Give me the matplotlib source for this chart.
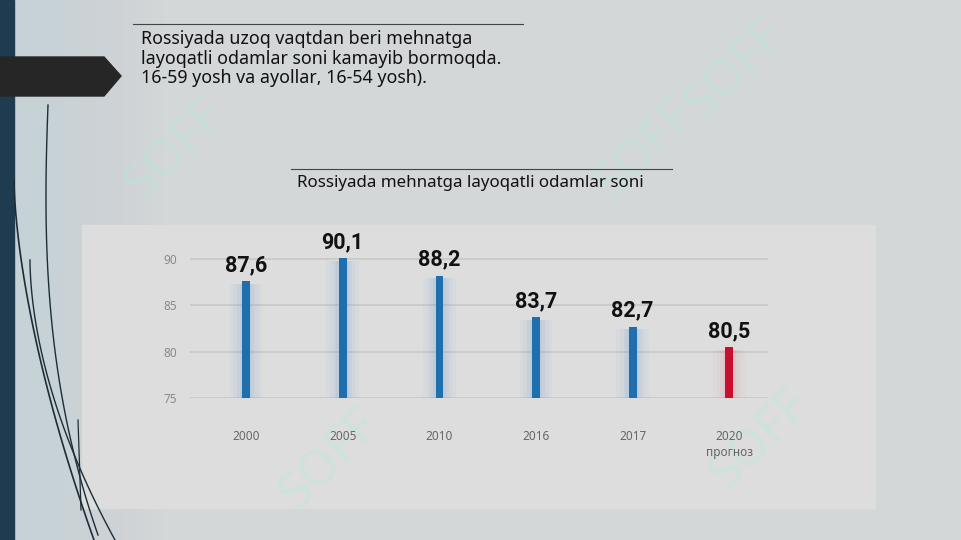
import matplotlib.pyplot as plt
import matplotlib.patches as mpatches
import numpy as np

# data
years = ['2000', '2005', '2010', '2016', '2017', '2020\nпрогноз']
values = [87.6, 90.1, 88.2, 83.7, 82.7, 80.5]
labels = ['87,6', '90,1', '88,2', '83,7', '82,7', '80,5']
bar_colors = ['#1f6fae', '#1f6fae', '#1f6fae', '#1f6fae', '#1f6fae', '#c8102e']
glow_colors = ['#3b7fd6', '#3b7fd6', '#3b7fd6', '#3b7fd6', '#3b7fd6', '#e0607a']
yticks = [75, 80, 85, 90]

plt.rcParams['font.family'] = ['Noto Sans', 'DejaVu Sans']

W, H = 961, 540
fig = plt.figure(figsize=(W / 100, H / 100), dpi=100)
fig.patch.set_facecolor('#d4d7d8')

# slide background layer in pixel coords
bg = fig.add_axes([0, 0, 1, 1])
bg.set_xlim(0, W)
bg.set_ylim(H, 0)
bg.axis('off')
for k in range(12):
    bg.add_patch(mpatches.Rectangle((14, 0), 40 + 10 * k, H, color='#c4d2d6', alpha=0.07, lw=0, zorder=0))
bg.add_patch(mpatches.Rectangle((0, 0), 14, H, color='#1f3b50', zorder=1))
bg.add_patch(mpatches.Polygon([(0, 57), (104, 57), (121, 76), (104, 96), (0, 96)],
                              closed=True, color='#262626', zorder=2))
# panel behind the chart
bg.add_patch(mpatches.Rectangle((82, 225), 793, 283, color='#dddddd', zorder=1))

# watermark
for (x, y) in [(175, 150), (645, 150), (735, 70), (330, 460), (760, 440)]:
    bg.text(x, y, 'SOFF', fontsize=36, fontweight='bold', color='#a8efd6', alpha=0.3,
            rotation=45, ha='center', va='center', zorder=1)

# decorative curves on the left
t = np.linspace(0, 1, 100)
bg.plot(14 + 80 * t ** 1.6, 180 + 360 * t, color='#1d2d38', lw=1.2, zorder=3)
bg.plot(48 - 10 * np.sin(np.pi * t * 0.5) + 60 * t ** 2.5, 105 + 430 * t, color='#1d2d38', lw=1.0, zorder=3)
bg.plot(30 + 85 * t ** 1.8, 260 + 280 * t, color='#1d2d38', lw=1.0, zorder=3)
bg.plot([78, 81], [420, 510], color='#1d2d38', lw=0.9, zorder=3)

# heading text
bg.plot([133, 523], [24, 24], color='#444444', lw=0.8)
bg.text(141, 30, 'Rossiyada uzoq vaqtdan beri mehnatga\nlayoqatli odamlar soni kamayib bormoqda.\n16-59 yosh va ayollar, 16-54 yosh).',
        fontsize=12.8, color='#111111', va='top', ha='left', linespacing=1.12)
bg.plot([291, 672], [169, 169], color='#444444', lw=0.8)
bg.text(297, 183, 'Rossiyada mehnatga layoqatli odamlar soni',
        fontsize=12.2, color='#111111', va='center', ha='left')

# chart
ax = fig.add_axes([190 / W, (H - 398) / H, 578 / W, 148.3 / H])
ax.patch.set_alpha(0)
x = np.arange(len(years))
for i in range(len(values)):
    for w, a in [(0.34, 0.03), (0.26, 0.04), (0.19, 0.05), (0.13, 0.07)]:
        ax.bar(x[i], values[i] - 75.3, bottom=75, width=w, color=glow_colors[i], alpha=a,
               linewidth=0, zorder=2)
ax.bar(x, [v - 75 for v in values], bottom=75, width=0.08, color=bar_colors, zorder=3)
for i in range(len(values)):
    ax.text(x[i], values[i] + 0.55, labels[i], ha='center', va='bottom',
            fontsize=15.5, fontweight='bold', family='Roboto', color='#111111', zorder=4)

ax.set_xlim(-0.58, 5.40)
ax.set_ylim(75, 91)
ax.set_yticks(yticks)
ax.yaxis.grid(True, color='#c8c8c8', lw=1.2)
ax.set_axisbelow(True)
for s in ax.spines.values():
    s.set_visible(False)
ax.tick_params(axis='y', length=0, pad=9, labelsize=8.5, labelcolor='#8a8a8a')
ax.set_xticks(x)
ax.set_xticklabels(years, fontsize=8.5, color='#666666', linespacing=1.3)
ax.tick_params(axis='x', length=0, pad=23)

fig.savefig('out.png', dpi=100, facecolor=fig.get_facecolor())
